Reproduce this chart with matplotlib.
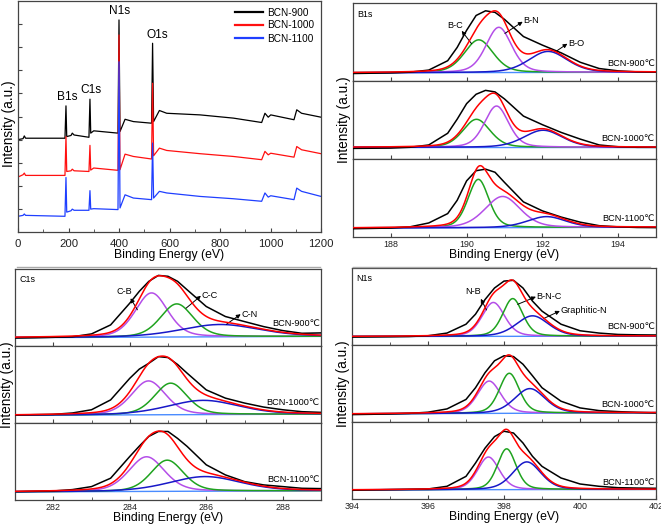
import numpy as np
import matplotlib
matplotlib.use("Agg")
import matplotlib.pyplot as plt
from matplotlib.lines import Line2D
from matplotlib.ticker import MultipleLocator

plt.rcParams['font.family'] = ['Liberation Sans', 'DejaVu Sans']

W, H = 661, 528

# ---- survey spectra (relative intensity) ----
survey_x = [0, 20, 25, 30, 186, 190, 193, 210, 215, 222, 281, 285, 288, 300, 396, 400, 404,
            424, 457, 529, 533, 537, 560, 589, 721, 853, 965, 978, 991, 1001, 1093, 1104, 1123, 1200]
survey_900 = [0.400, 0.404, 0.416, 0.406, 0.406, 0.546, 0.413, 0.418, 0.428, 0.420, 0.410, 0.575,
              0.428, 0.438, 0.428, 0.918, 0.435, 0.488, 0.478, 0.471, 0.817, 0.478, 0.526, 0.514,
              0.507, 0.493, 0.474, 0.514, 0.497, 0.507, 0.486, 0.529, 0.514, 0.497]
survey_1000 = [0.238, 0.248, 0.255, 0.245, 0.245, 0.413, 0.262, 0.265, 0.272, 0.265, 0.262, 0.375,
               0.268, 0.277, 0.267, 0.853, 0.270, 0.337, 0.327, 0.316, 0.644, 0.330, 0.363, 0.353,
               0.339, 0.327, 0.313, 0.349, 0.334, 0.341, 0.324, 0.370, 0.356, 0.339]
survey_1100 = [0.068, 0.072, 0.078, 0.072, 0.068, 0.236, 0.086, 0.092, 0.099, 0.094, 0.094, 0.179,
               0.099, 0.101, 0.097, 0.737, 0.104, 0.161, 0.147, 0.140, 0.385, 0.147, 0.176, 0.169,
               0.154, 0.144, 0.133, 0.169, 0.151, 0.157, 0.140, 0.190, 0.176, 0.154]
survey_names = ["BCN-900", "BCN-1000", "BCN-1100"]
survey_peaks = ["B1s", "C1s", "N1s", "O1s"]

sample_labels = ["BCN-900\u2103", "BCN-1000\u2103", "BCN-1100\u2103"]

# ---- B1s: measured curve + fitted peaks (B-C, B-N, B-O) ----
b1s_x = [187, 187.5, 188, 188.5, 189, 189.5, 189.75, 190, 190.25, 190.5, 190.75, 191, 191.5,
         192, 192.5, 193, 193.5, 194, 194.5, 195]
b1s_raw = [
    [0.096, 0.100, 0.104, 0.113, 0.140, 0.260, 0.430, 0.650, 0.840, 0.900, 0.880, 0.790, 0.570,
     0.460, 0.360, 0.240, 0.160, 0.130, 0.117, 0.113],
    [0.136, 0.138, 0.140, 0.150, 0.180, 0.330, 0.510, 0.710, 0.830, 0.880, 0.860, 0.770, 0.550,
     0.440, 0.340, 0.255, 0.180, 0.157, 0.150, 0.150],
    [0.106, 0.110, 0.115, 0.130, 0.180, 0.300, 0.470, 0.720, 0.850, 0.870, 0.830, 0.700, 0.450,
     0.335, 0.255, 0.190, 0.145, 0.130, 0.122, 0.120],
]
b1s_names = ["B-C", "B-N", "B-O"]
b1s_centers = [[190.32, 190.85, 192.15], [190.26, 190.79, 192.02], [190.31, 190.95, 192.11]]
b1s_heights = [[0.42, 0.58, 0.27], [0.36, 0.53, 0.22], [0.62, 0.40, 0.14]]
b1s_fwhm = [[0.90, 0.80, 1.20], [0.85, 0.75, 1.20], [0.65, 1.10, 1.20]]
b1s_base = [[0.105, 0.112], [0.149, 0.149], [0.115, 0.125]]

# ---- C1s: fitted peaks (C-B, C-C, C-N) ----
c1s_x = [281, 281.5, 282, 282.5, 283, 283.5, 284, 284.25, 284.5, 284.75, 285, 285.25, 285.5,
         286, 286.5, 287, 287.5, 288, 288.5, 289]
c1s_raw = [
    [0.104, 0.108, 0.113, 0.120, 0.157, 0.274, 0.556, 0.710, 0.840, 0.917, 0.905, 0.840, 0.730,
     0.513, 0.383, 0.317, 0.252, 0.200, 0.165, 0.170],
    [0.103, 0.108, 0.112, 0.130, 0.172, 0.300, 0.580, 0.700, 0.776, 0.862, 0.850, 0.760, 0.647,
     0.430, 0.323, 0.259, 0.207, 0.172, 0.147, 0.138],
    [0.109, 0.113, 0.117, 0.135, 0.174, 0.283, 0.565, 0.700, 0.826, 0.890, 0.890, 0.800, 0.696,
     0.457, 0.326, 0.239, 0.196, 0.174, 0.152, 0.148],
]
c1s_names = ["C-B", "C-C", "C-N"]
c1s_centers = [[284.57, 285.23, 286.36], [284.49, 285.07, 285.92], [284.44, 284.98, 285.97]]
c1s_heights = [[0.574, 0.43, 0.16], [0.44, 0.41, 0.185], [0.45, 0.405, 0.19]]
c1s_fwhm = [[1.0, 1.0, 2.4], [1.05, 1.0, 2.2], [1.1, 1.0, 2.2]]
c1s_base = [[0.108, 0.125], [0.100, 0.115], [0.105, 0.120]]

# ---- N1s: fitted peaks (N-B, B-N-C, Graphitic-N) ----
n1s_x = [394, 394.5, 395, 395.5, 396, 396.5, 397, 397.25, 397.5, 397.75, 398, 398.25, 398.5,
         398.75, 399, 399.5, 400, 400.5, 401, 401.5, 402]
n1s_raw = [
    [0.103, 0.105, 0.107, 0.110, 0.120, 0.155, 0.270, 0.400, 0.590, 0.740, 0.830, 0.840, 0.740,
     0.570, 0.440, 0.270, 0.185, 0.155, 0.137, 0.132, 0.130],
    [0.096, 0.100, 0.105, 0.112, 0.127, 0.170, 0.293, 0.445, 0.640, 0.795, 0.860, 0.850, 0.750,
     0.600, 0.445, 0.270, 0.183, 0.148, 0.135, 0.125, 0.118],
    [0.113, 0.118, 0.122, 0.126, 0.130, 0.165, 0.294, 0.467, 0.660, 0.810, 0.880, 0.857, 0.727,
     0.554, 0.424, 0.273, 0.195, 0.165, 0.147, 0.142, 0.139],
]
n1s_names = ["N-B", "B-N-C", "Graphitic-N"]
n1s_centers = [[397.72, 398.23, 398.75], [397.61, 398.14, 398.68], [397.59, 398.07, 398.60]]
n1s_heights = [[0.44, 0.49, 0.266], [0.42, 0.52, 0.32], [0.424, 0.53, 0.36]]
n1s_fwhm = [[0.70, 0.62, 1.00], [0.72, 0.62, 0.95], [0.68, 0.58, 0.88]]
n1s_base = [[0.110, 0.115], [0.105, 0.120], [0.118, 0.125]]

GREEN = '#1fa31f'
PURPLE = '#b44ee8'
BLUE = '#1818c8'
BASE = '#4a8cff'
SPINE = '#444444'


def pseudo_voigt(x, c, h, w, eta=0.3):
    g = np.exp(-4 * np.log(2) * ((x - c) / w) ** 2)
    l = 1.0 / (1.0 + 4 * ((x - c) / w) ** 2)
    return h * (eta * l + (1 - eta) * g)


def rect(left, top, right, bottom):
    return [left / W, 1 - bottom / H, (right - left) / W, (bottom - top) / H]


def style_axis(ax):
    for s in ax.spines.values():
        s.set_color(SPINE)
        s.set_linewidth(0.9)
    ax.tick_params(direction='in', which='both', colors=SPINE, labelcolor='#222222')


fig = plt.figure(figsize=(W / 100, H / 100), dpi=100)

# ---------------- survey ----------------
ax = fig.add_axes(rect(18, 1, 321, 232))
ax.plot(survey_x, survey_900, color='black', lw=0.9, label=survey_names[0])
ax.plot(survey_x, survey_1000, color='#ff1010', lw=0.9, label=survey_names[1])
ax.plot(survey_x, survey_1100, color='#1f3fff', lw=0.9, label=survey_names[2])
ax.set_xlim(0, 1200)
ax.set_ylim(0, 1)
ax.xaxis.set_major_locator(MultipleLocator(200))
ax.xaxis.set_minor_locator(MultipleLocator(100))
ax.set_yticks(np.arange(0.1, 1.0, 0.1))
ax.set_yticklabels([])
style_axis(ax)
ax.tick_params(axis='x', labelsize=8.2, pad=5)
ax.tick_params(axis='y', length=3)
ax.tick_params(axis='x', which='major', length=3)
ax.tick_params(axis='x', which='minor', length=2)
ax.set_xlabel("Binding Energy (eV)", fontsize=8.8, labelpad=0)
fig.text(9 / W, 1 - 124 / H, "Intensity (a.u.)", rotation=90, fontsize=9.8,
         ha='center', va='center')
peak_pos = [190, 285, 400, 533]
peak_top = [survey_900[5], survey_900[11], survey_900[15], survey_900[20]]
for name, px, py in zip(survey_peaks, peak_pos, peak_top):
    ax.text(px + (4 if name != 'O1s' else 20), py + 0.012, name, fontsize=8.6,
            ha='center', va='bottom')
leg = ax.legend(loc='upper right', fontsize=7.2, frameon=False, handlelength=2.8,
                handletextpad=0.4, labelspacing=0.3, borderaxespad=0.25)
for line in leg.get_lines():
    line.set_linewidth(1.6)

# ---------------- stacked fit panels ----------------
def draw_stack(box, x, raw, names, centers, heights, widths, bases, comp_colors,
               core, ticks, minor, notes, label_y, ylabel_x):
    left, top, right, bottom = box
    sub_h = (bottom - top) / 3.0
    xs = np.linspace(x[0], x[-1], 400)
    axes = []
    for i in range(3):
        a = fig.add_axes(rect(left, top + i * sub_h, right, top + (i + 1) * sub_h))
        base = np.interp(xs, [x[0], x[-1]], bases[i])
        a.plot(xs, base, color=BASE, lw=1.0, zorder=2)
        total = base.copy()
        for c, h, w, col in zip(centers[i], heights[i], widths[i], comp_colors):
            comp = pseudo_voigt(xs, c, h, w)
            total += comp
            a.plot(xs, base + comp, color=col, lw=1.1, zorder=3)
        a.plot(x, raw[i], color='black', lw=1.1, zorder=4)
        a.plot(xs, total, color='#ff0000', lw=1.1, zorder=5)
        a.set_xlim(x[0], x[-1])
        a.set_ylim(0, 1)
        a.set_yticks([])
        a.xaxis.set_major_locator(MultipleLocator(ticks))
        a.xaxis.set_minor_locator(MultipleLocator(minor))
        style_axis(a)
        a.tick_params(axis='x', which='major', length=3, labelsize=6.4, pad=2.5)
        a.tick_params(axis='x', which='minor', length=2)
        if i < 2:
            a.tick_params(axis='x', labelbottom=False)
        a.text(x[-1] - 0.03, label_y[i], sample_labels[i], fontsize=6.6,
               ha='right', va='bottom')
        axes.append(a)
    top_ax = axes[0]
    top_ax.text(x[0] + 0.12, 0.80, core, fontsize=6.4, ha='left', va='bottom')
    for name, (tx, ty, ha), head, tail in notes:
        top_ax.annotate('', xy=head, xytext=tail,
                        arrowprops=dict(arrowstyle='-|>', color='black', lw=0.7,
                                        mutation_scale=6, shrinkA=0, shrinkB=0))
        top_ax.text(tx, ty, name, fontsize=6.6, ha=ha, va='center')
    axes[-1].set_xlabel("Binding Energy (eV)", fontsize=8.8, labelpad=0)
    fig.text(ylabel_x / W, 1 - (top + bottom) / 2 / H, "Intensity (a.u.)", rotation=90,
             fontsize=9.8, ha='center', va='center')
    return axes


b1s_notes = [
    (b1s_names[0], (189.69, 0.717, 'center'), (189.87, 0.643), (190.13, 0.478)),
    (b1s_names[1], (191.50, 0.774, 'left'), (191.48, 0.76), (191.01, 0.61)),
    (b1s_names[2], (192.68, 0.478, 'left'), (192.66, 0.478), (192.37, 0.383)),
]
draw_stack((353, 3, 656, 237), b1s_x, b1s_raw, b1s_names, b1s_centers, b1s_heights, b1s_fwhm,
           b1s_base, [GREEN, PURPLE, BLUE], "B1s", 2, 1, b1s_notes,
           [0.17, 0.20, 0.18], 344)

c1s_notes = [
    (c1s_names[0], (283.85, 0.709, 'center'), (284.02, 0.62), (284.20, 0.47)),
    (c1s_names[1], (285.88, 0.652, 'left'), (285.86, 0.652), (285.47, 0.49)),
    (c1s_names[2], (286.92, 0.413, 'left'), (286.90, 0.413), (286.53, 0.283)),
]
draw_stack((15, 269, 321, 500), c1s_x, c1s_raw, c1s_names, c1s_centers, c1s_heights, c1s_fwhm,
           c1s_base, [PURPLE, GREEN, BLUE], "C1s", 2, 1, c1s_notes,
           [0.24, 0.21, 0.21], 7)

n1s_notes = [
    (n1s_names[0], (397.19, 0.70, 'center'), (397.39, 0.60), (397.54, 0.455)),
    (n1s_names[1], (398.86, 0.627, 'left'), (398.84, 0.627), (398.36, 0.528)),
    (n1s_names[2], (399.49, 0.442, 'left'), (399.47, 0.442), (399.04, 0.343)),
]
draw_stack((352, 268, 656, 499), n1s_x, n1s_raw, n1s_names, n1s_centers, n1s_heights, n1s_fwhm,
           n1s_base, [PURPLE, GREEN, BLUE], "N1s", 2, 1, n1s_notes,
           [0.18, 0.17, 0.16], 343)

# thin grey rules under the upper panels
fig.add_artist(Line2D([17 / W, 320 / W], [1 - 267 / H] * 2, color='#aaaaaa', lw=1.0))
fig.add_artist(Line2D([353 / W, 650 / W], [1 - 267 / H] * 2, color='#aaaaaa', lw=1.0))

fig.savefig("out.png", dpi=100)
